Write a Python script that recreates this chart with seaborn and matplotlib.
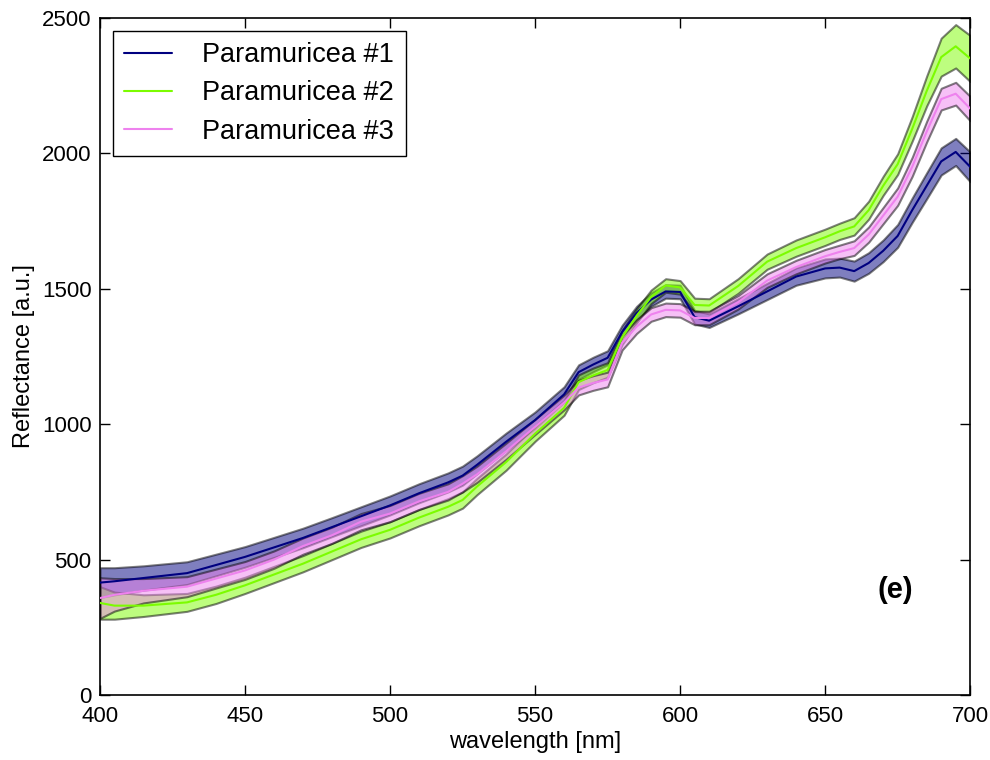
import numpy as np
import pandas as pd
import matplotlib
matplotlib.use("Agg")
import matplotlib.pyplot as plt
import seaborn as sns

wavelength = [400, 405, 415, 430, 440, 450, 460, 470, 480, 490, 500, 510, 520, 525, 530,
              540, 550, 560, 565, 570, 575, 580, 585, 590, 595, 600, 605, 610, 620, 630,
              640, 650, 655, 660, 665, 670, 675, 680, 685, 690, 695, 700]

mean1 = [415, 420, 432, 450, 480, 510, 545, 580, 620, 660, 700, 745, 785, 810, 850,
         935, 1015, 1110, 1192, 1220, 1245, 1340, 1410, 1460, 1490, 1488, 1395, 1382, 1435, 1490,
         1545, 1575, 1578, 1565, 1595, 1640, 1695, 1790, 1880, 1970, 2005, 1950]
std1 = [55, 50, 45, 42, 40, 38, 37, 36, 35, 35, 35, 35, 35, 35, 33,
        32, 30, 28, 27, 27, 26, 25, 25, 25, 25, 25, 25, 25, 28, 30,
        32, 35, 35, 37, 38, 40, 42, 45, 48, 50, 50, 55]

mean2 = [340, 330, 330, 342, 370, 405, 445, 485, 530, 575, 610, 655, 695, 720, 770,
         860, 965, 1060, 1155, 1180, 1200, 1320, 1400, 1470, 1512, 1505, 1440, 1438, 1510, 1600,
         1650, 1690, 1712, 1730, 1790, 1880, 1960, 2090, 2230, 2355, 2395, 2350]
std2 = [60, 50, 40, 33, 32, 30, 30, 30, 30, 30, 30, 30, 30, 30, 30,
        30, 28, 27, 27, 27, 27, 26, 26, 25, 25, 25, 25, 25, 27, 28,
        30, 30, 30, 32, 33, 35, 38, 45, 55, 70, 80, 85]

mean3 = [358, 370, 385, 400, 430, 460, 500, 550, 590, 640, 670, 715, 750, 780, 815,
         900, 990, 1080, 1135, 1152, 1165, 1300, 1360, 1405, 1422, 1420, 1392, 1392, 1450, 1530,
         1580, 1620, 1636, 1650, 1700, 1770, 1840, 1950, 2080, 2200, 2220, 2165]
std3 = [75, 60, 45, 37, 35, 33, 32, 30, 30, 30, 30, 30, 30, 30, 30,
        30, 28, 27, 27, 27, 27, 26, 25, 25, 25, 25, 25, 25, 25, 25,
        25, 25, 25, 27, 28, 30, 32, 35, 38, 40, 42, 45]

labels = ["Paramuricea #1", "Paramuricea #2", "Paramuricea #3"]
colors = ["#000080", "#7CFC00", "#EE82EE"]

sns.set_theme(style="ticks")
plt.rcParams["font.family"] = ["Liberation Sans", "DejaVu Sans"]
plt.rcParams["text.color"] = "black"
plt.rcParams["axes.labelcolor"] = "black"

fig = plt.figure(figsize=(9.9, 7.6), dpi=100)
ax = fig.add_axes([0.101, 0.0855, 0.879, 0.891])

means = [mean1, mean2, mean3]
stds = [std1, std2, std3]
frames = []
for lab, m in zip(labels, means):
    frames.append(pd.DataFrame({"wavelength": wavelength, "reflectance": m, "sample": lab}))
df = pd.concat(frames, ignore_index=True)

for lab, m, s, c in zip(labels, means, stds, colors):
    m = np.array(m, dtype=float)
    s = np.array(s, dtype=float)
    ax.fill_between(wavelength, m - s, m + s, facecolor=c, alpha=0.5,
                    edgecolor=(0, 0, 0, 0.5), linewidth=1.5, zorder=2)

sns.lineplot(data=df, x="wavelength", y="reflectance", hue="sample",
             palette=dict(zip(labels, colors)), linewidth=1.5, ax=ax, zorder=3,
             legend=False)

handles = [plt.Line2D([], [], color=c, lw=1.5) for c in colors]
leg = ax.legend(handles, labels, loc="upper left", fontsize=19.5, frameon=True,
                fancybox=False, edgecolor="black", handlelength=1.75,
                handletextpad=1.13, borderpad=0.42, labelspacing=0.45,
                bbox_to_anchor=(0.0, 1.0), borderaxespad=0.48)
leg.get_frame().set_linewidth(1.0)
leg.get_frame().set_alpha(1)

ax.set_xlim(400, 700)
ax.set_ylim(0, 2500)
ax.set_xticks([400, 450, 500, 550, 600, 650, 700])
ax.set_yticks([0, 500, 1000, 1500, 2000, 2500])
ax.set_xlabel("wavelength [nm]", fontsize=17, labelpad=3)
ax.set_ylabel("Reflectance [a.u.]", fontsize=17, labelpad=5)
ax.tick_params(direction="in", length=7, width=1, labelsize=16,
               top=True, right=True, colors="black")
ax.tick_params(axis="x", pad=8)
ax.tick_params(axis="y", pad=6)
for sp in ax.spines.values():
    sp.set_linewidth(1.2)
    sp.set_color("black")
    sp.set_visible(True)

ax.text(0.914, 0.155, "(e)", transform=ax.transAxes, fontsize=21,
        fontweight="bold", ha="center", va="center")

fig.savefig("out.png", dpi=100)
